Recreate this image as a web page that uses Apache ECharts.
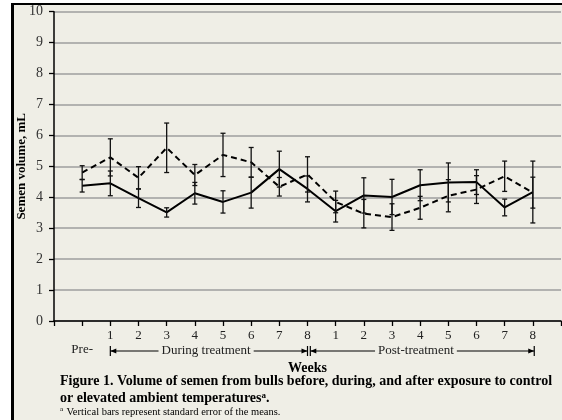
<!DOCTYPE html>
<html><head><meta charset="utf-8">
<script src="https://cdn.jsdelivr.net/npm/echarts@6/dist/echarts.min.js"></script>
<style>
html,body{margin:0;padding:0;background:#fff;}
#frame{position:absolute;left:11px;top:3px;width:548px;height:415px;background:#efeee6;border-left:3px solid #000;border-top:2px solid #000;}
#chart{position:absolute;left:0;top:0;width:562px;height:420px;}
</style></head><body>
<div id="frame"></div><div id="chart"></div>
<script>
// Period labels (x positions 1..17)
const weekLabels = ['Pre-','1','2','3','4','5','6','7','8','1','2','3','4','5','6','7','8'];
// Solid line series (means and SE)
const solidMeans = [4.37, 4.45, 3.97, 3.51, 4.13, 3.85, 4.15, 4.91, 4.27, 3.55, 4.06, 4.01, 4.39, 4.48, 4.49, 3.67, 4.17];
const solidSE    = [0.20, 0.40, 0.30, 0.15, 0.35, 0.36, 0.50, 0.58, 0.42, 0.35, 0.57, 0.57, 0.50, 0.63, 0.40, 0.27, 1.00];
// Dashed line series (means and SE)
const dashedMeans = [4.80, 5.29, 4.63, 5.60, 4.72, 5.37, 5.13, 4.34, 4.74, 3.85, 3.47, 3.36, 3.66, 4.05, 4.25, 4.68, 4.15];
const dashedSE    = [0.22, 0.60, 0.36, 0.80, 0.34, 0.70, 0.48, 0.30, 0.57, 0.35, 0.46, 0.43, 0.37, 0.52, 0.45, 0.49, 0.50];
const yMin = 0, yMax = 10, yStep = 1;
const periods = [
  {name: 'During treatment', start: 2, end: 9, labelAt: 5.4},
  {name: 'Post-treatment', start: 9.1, end: 17.05, labelAt: 12.85}
];

const SERIF = '"Liberation Serif", "DejaVu Serif", serif';
const BG = '#efeee6';

const chart = echarts.init(document.getElementById('chart'), null, {renderer: 'canvas'});

function pts(arr){ return arr.map((v,i)=>[i+1, v]); }
function errData(means, se){ return means.map((v,i)=>[i+1, v-se[i], v+se[i]]); }

function errRender(params, api){
  const x = api.value(0);
  const lo = api.coord([x, api.value(1)]);
  const hi = api.coord([x, api.value(2)]);
  const w = 2.5;
  const st = {stroke: '#111', lineWidth: 1.3};
  return {type: 'group', children: [
    {type: 'line', shape: {x1: lo[0], y1: lo[1], x2: hi[0], y2: hi[1]}, style: st},
    {type: 'line', shape: {x1: lo[0]-w, y1: lo[1], x2: lo[0]+w, y2: lo[1]}, style: st},
    {type: 'line', shape: {x1: hi[0]-w, y1: hi[1], x2: hi[0]+w, y2: hi[1]}, style: st}
  ]};
}

const option = {
  animation: false,
  backgroundColor: 'transparent',
  grid: {left: 54, right: 1, top: 11.7, bottom: 99, containLabel: false, outerBoundsMode: 'none'},
  xAxis: {
    type: 'value', min: 0, max: weekLabels.length + 1, interval: 1,
    name: 'Weeks', nameLocation: 'middle', nameGap: 40, nameMoveOverlap: false,
    nameTextStyle: {fontFamily: SERIF, fontWeight: 'bold', fontSize: 14, color: '#000'},
    axisLine: {show: true, onZero: false, lineStyle: {color: '#000', width: 1.5}},
    axisTick: {show: true, length: 5, lineStyle: {color: '#000', width: 1.3}},
    splitLine: {show: false},
    axisLabel: {
      margin: 8, fontFamily: SERIF, fontSize: 13, color: '#222', lineHeight: 14,
      showMinLabel: true, showMaxLabel: true,
      formatter: function(v){
        const idx = Math.round(v) - 1;
        if (idx === 0) return '\n' + weekLabels[0];
        if (idx > 0 && idx < weekLabels.length) return weekLabels[idx];
        return '';
      }
    }
  },
  yAxis: {
    type: 'value', min: yMin, max: yMax, interval: yStep,
    name: 'Semen volume, mL', nameLocation: 'middle', nameGap: 26, nameMoveOverlap: false,
    nameTextStyle: {fontFamily: SERIF, fontWeight: 'bold', fontSize: 13, color: '#000'},
    axisLine: {show: true, lineStyle: {color: '#000', width: 1.5}},
    axisTick: {show: true, length: 5, lineStyle: {color: '#000', width: 1.3}},
    axisLabel: {margin: 11, fontFamily: SERIF, fontSize: 14, color: '#333'},
    splitLine: {show: true, lineStyle: {color: '#9e9e9e', width: 1.5}}
  },
  series: [
    {type: 'line', name: 'Solid', data: pts(solidMeans), symbol: 'none',
     lineStyle: {color: '#000', width: 2, type: 'solid'}, z: 3},
    {type: 'line', name: 'Dashed', data: pts(dashedMeans), symbol: 'none',
     lineStyle: {color: '#000', width: 2, type: [6, 4]}, z: 3},
    {type: 'custom', name: 'SolidErr', data: errData(solidMeans, solidSE), renderItem: errRender, z: 4},
    {type: 'custom', name: 'DashedErr', data: errData(dashedMeans, dashedSE), renderItem: errRender, z: 4}
  ]
};
chart.setOption(option);

// Annotations below the axis, positioned with the chart's own scale
const base = chart.convertToPixel({gridIndex: 0}, [0, 0])[1];
const by = base + 30;
const g = [];
periods.forEach(p => {
  const xa = chart.convertToPixel({gridIndex: 0}, [p.start, 0])[0];
  const xb = chart.convertToPixel({gridIndex: 0}, [p.end, 0])[0];
  const xc = chart.convertToPixel({gridIndex: 0}, [p.labelAt, 0])[0];
  const st = {stroke: '#000', lineWidth: 1};
  g.push({type: 'line', shape: {x1: xa, y1: by, x2: xb, y2: by}, style: st, silent: true});
  g.push({type: 'line', shape: {x1: xa, y1: by - 5, x2: xa, y2: by + 5}, style: {stroke: '#000', lineWidth: 1.2}});
  g.push({type: 'line', shape: {x1: xb, y1: by - 5, x2: xb, y2: by + 5}, style: {stroke: '#000', lineWidth: 1.2}});
  g.push({type: 'polygon', shape: {points: [[xa, by], [xa + 6, by - 2.5], [xa + 6, by + 2.5]]}, style: {fill: '#000'}});
  g.push({type: 'polygon', shape: {points: [[xb, by], [xb - 6, by - 2.5], [xb - 6, by + 2.5]]}, style: {fill: '#000'}});
  g.push({type: 'text', x: xc, y: by, style: {text: p.name, fontFamily: SERIF, fontSize: 13, fill: '#222',
    align: 'center', verticalAlign: 'middle', backgroundColor: BG, padding: [0, 3]}});
});
// Caption
g.push({type: 'text', left: 60, top: 374.5, style: {
  text: 'Figure 1. Volume of semen from bulls before, during, and after exposure to control',
  fontFamily: SERIF, fontWeight: 'bold', fontSize: 14, fill: '#000'}});
g.push({type: 'text', left: 60, top: 391.5, style: {
  text: '{m|or elevated ambient temperatures}{s|a}{m|.}',
  rich: {m: {fontFamily: SERIF, fontWeight: 'bold', fontSize: 14, fill: '#000', verticalAlign: 'bottom'},
         s: {fontFamily: SERIF, fontWeight: 'bold', fontSize: 9, fill: '#000', verticalAlign: 'top'}}}});
g.push({type: 'text', left: 60, top: 406, style: {
  text: '{s|a} {m|Vertical bars represent standard error of the means.}',
  rich: {m: {fontFamily: SERIF, fontSize: 10.5, fill: '#000'},
         s: {fontFamily: SERIF, fontSize: 7, fill: '#000', verticalAlign: 'top'}}}});
chart.setOption({graphic: {elements: g}});
</script></body></html>
